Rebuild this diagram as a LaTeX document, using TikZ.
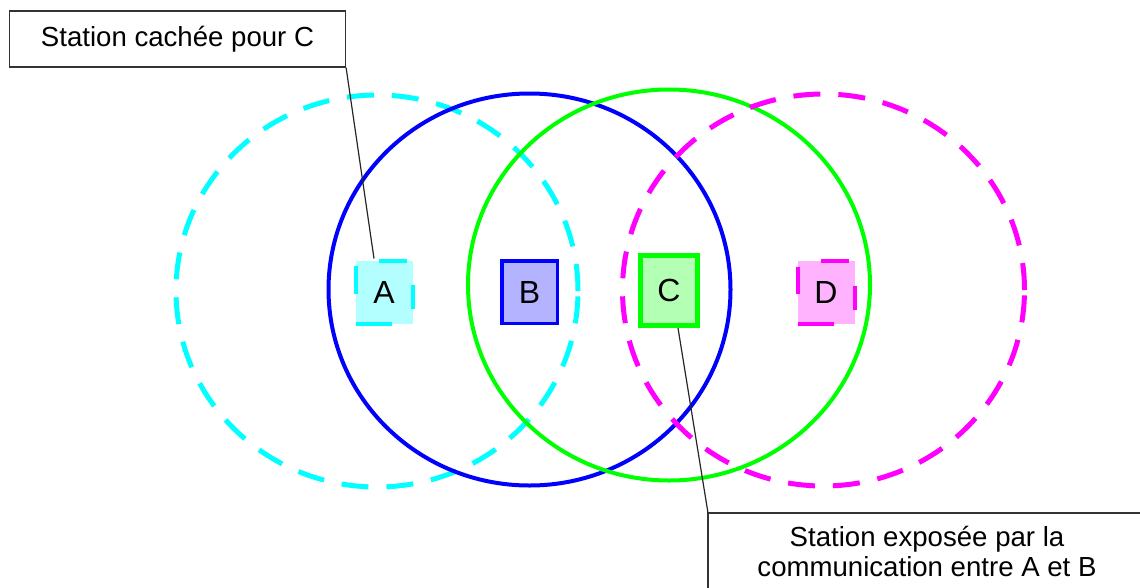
\documentclass[tikz,border=0pt]{standalone}
\usepackage{fontspec}
\setmainfont{Liberation Sans}
\usetikzlibrary{calc}
\definecolor{cyanC}{HTML}{00FFFF}
\definecolor{cyanL}{HTML}{B3FFFF}
\definecolor{blueC}{HTML}{0000FF}
\definecolor{blueL}{HTML}{B3B3FF}
\definecolor{greenC}{HTML}{00FF00}
\definecolor{greenL}{HTML}{B3FFB3}
\definecolor{magC}{HTML}{FF00FF}
\definecolor{magL}{HTML}{FFB3FF}
\tikzset{
  rangedash/.style={line width=5pt, dash pattern=on 27pt off 18pt},
  rangesolid/.style={line width=4pt},
  stbox/.style={rectangle, inner sep=0pt, font=\fontsize{32}{36}\selectfont},
  boxdash/.style={line width=4pt,
     dash pattern=on 36.5pt off 35pt on 24pt off 30.5pt on 27.5pt off 29pt on 27.5pt off 30pt},
  lblbox/.style={rectangle, draw=black!80, line width=1.2pt, inner sep=0pt,
     font=\fontsize{27.6}{30}\selectfont},
  conn/.style={draw=black!85, line width=1.2pt}
}
\begin{document}
\begin{tikzpicture}[x=1pt,y=-1pt]
\useasboundingbox (0,0) rectangle (1140,587);
\clip (0,0) rectangle (1140,587);
% coverage ranges
\draw[rangedash, draw=cyanC] (377,291) ellipse [x radius=201pt, y radius=196pt];
\draw[rangesolid, draw=blueC] (529.5,289.5) ellipse [x radius=201pt, y radius=196pt];
\draw[rangesolid, draw=greenC] (669,285) ellipse [x radius=201pt, y radius=195.5pt];
\draw[rangedash, draw=magC] (823.5,290) ellipse [x radius=201pt, y radius=196pt];
% stations
\node[stbox, fill=cyanL, draw=cyanC, boxdash,
      minimum width=57pt, minimum height=63pt] (A) at (384,292) {A};
\node[stbox, fill=blueL, draw=blueC, line width=3.5pt,
      minimum width=55.5pt, minimum height=62.5pt] (B) at (529.5,292) {B};
\node[stbox, fill=greenL, draw=greenC, line width=5pt,
      minimum width=57pt, minimum height=70pt] (C) at (669,290.5) {C};
\node[stbox, fill=magL, draw=magC, boxdash,
      minimum width=57pt, minimum height=63pt] (D) at (826,292.5) {D};
% labels
\node[lblbox, minimum width=336pt, minimum height=56pt] (hid) at (177.5,39) {Station cachée pour C};
\coordinate (e) at (708,513);
\draw[draw=black!80, line width=1.2pt] (e) rectangle (1160,620);
\node[font=\fontsize{27.6}{30}\selectfont, align=center, inner sep=0pt] (exp) at (927,551.5)
  {Station exposée par la\\communication entre A et B};
% connectors
\draw[conn] (hid.south east) -- ($(A.north)+(-10,0)$);
\draw[conn] ($(C.south)+(9,0)$) -- (e);
\end{tikzpicture}
\end{document}
